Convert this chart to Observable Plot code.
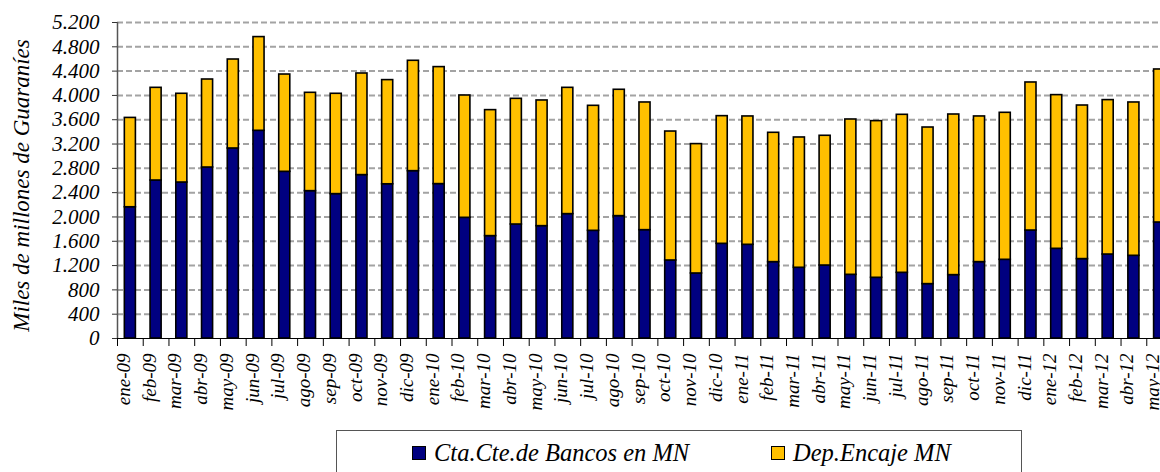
<!DOCTYPE html>
<html>
<head>
<meta charset="utf-8">
<script src="https://cdn.jsdelivr.net/npm/d3@7"></script>
<script src="https://cdn.jsdelivr.net/npm/@observablehq/plot@0.6"></script>
<style>
  html, body { margin: 0; padding: 0; background: #fff; overflow: hidden; width: 1160px; height: 472px; }
  #wrap { position: relative; width: 1160px; height: 472px; overflow: hidden; }
  #chart { position: absolute; left: 0; top: 0; width: 1172px; }
  #chart svg { max-width: none !important; }
  #legend {
    position: absolute; left: 336px; top: 430px; width: 686px; height: 60px;
    border: 1.5px solid #555; box-sizing: border-box;
    font-family: "Liberation Serif", "Times New Roman", "DejaVu Serif", serif; font-style: italic; font-size: 24.5px; color: #000;
  }
  .item { position: absolute; top: 8px; display: flex; align-items: center; white-space: nowrap; }
  .sw { width: 12px; height: 12px; border: 1.5px solid #000; margin-right: 8px; }
  #chart svg, #chart svg text { font-family: "Liberation Serif", "Times New Roman", "DejaVu Serif", serif !important; font-style: italic; }
</style>
</head>
<body>
<div id="wrap">
  <div id="chart"></div>
  <div id="legend">
    <div class="item" style="left:75px"><span class="sw" style="background:#000080"></span>Cta.Cte.de Bancos en MN</div>
    <div class="item" style="left:434px"><span class="sw" style="background:#FFC000"></span>Dep.Encaje MN</div>
  </div>
</div>
<script>
const months = ["ene-09","feb-09","mar-09","abr-09","may-09","jun-09","jul-09","ago-09","sep-09","oct-09","nov-09","dic-09",
  "ene-10","feb-10","mar-10","abr-10","may-10","jun-10","jul-10","ago-10","sep-10","oct-10","nov-10","dic-10",
  "ene-11","feb-11","mar-11","abr-11","may-11","jun-11","jul-11","ago-11","sep-11","oct-11","nov-11","dic-11",
  "ene-12","feb-12","mar-12","abr-12","may-12"];
const ctaCte = [2160,2600,2567,2814,3127,3418,2743,2425,2376,2689,2538,2754,
  2541,1986,1685,1876,1849,2047,1772,2014,1783,1284,1070,1558,
  1542,1257,1164,1201,1048,999,1081,895,1043,1257,1295,1777,
  1476,1307,1382,1361,1909];
const depEncaje = [1470,1525,1460,1448,1464,1542,1601,1618,1651,1672,1714,1816,
  1925,2013,2073,2068,2068,2078,2057,2079,2101,2122,2129,2101,
  2112,2128,2144,2135,2556,2578,2600,2577,2643,2397,2419,2436,
  2529,2527,2541,2523,2518];
const seriesNames = ["Cta.Cte.de Bancos en MN", "Dep.Encaje MN"];
const seriesColors = ["#000080", "#FFC000"];
const yTicks = d3.range(0, 5201, 400);
const yTitle = "Miles de millones de Guaraníes";

const data = [];
months.forEach((m, i) => {
  data.push({month: m, series: seriesNames[0], value: ctaCte[i]});
  data.push({month: m, series: seriesNames[1], value: depEncaje[i]});
});

const fmt = d => d3.format(",")(d).replace(/,/g, ".");
const marginLeft = 117, width = 1172, marginRight = 0;
const step = (width - marginLeft - marginRight) / months.length;

const chart = Plot.plot({
  width, height: 425,
  marginLeft, marginRight, marginTop: 22, marginBottom: 87,
  style: {fontFamily: "'Liberation Serif', 'Times New Roman', 'DejaVu Serif', serif", fontStyle: "italic", color: "#000", background: "#fff"},
  x: {domain: months, paddingInner: 0.57, paddingOuter: 0.285, round: false, axis: null},
  y: {domain: [0, 5200], axis: null},
  color: {domain: seriesNames, range: seriesColors},
  marks: [
    Plot.ruleY(yTicks.filter(d => d > 0), {stroke: "#a3a3a3", strokeWidth: 2, strokeDasharray: "6,3"}),
    Plot.barY(data, {x: "month", y: "value", fill: "series", stroke: "#000", strokeWidth: 1.6}),
    Plot.ruleY([0], {stroke: "#000", strokeWidth: 1.2}),
    Plot.ruleX([months[0]], {dx: -step / 2, y1: 0, y2: 5200, stroke: "#555", strokeWidth: 1.5}),
    Plot.ruleX(months, {x: d => d, dx: -step / 2, y1: 0, y2: 0, insetTop: 0, insetBottom: -8, stroke: "#000", strokeWidth: 1}),
    Plot.axisY({ticks: yTicks, tickFormat: fmt, tickSize: 5, tickPadding: 13, fontSize: 21, label: null, stroke: "#333"}),
    Plot.axisX({tickSize: 0, tickPadding: 15, tickRotate: -90, fontSize: 19, label: null, dx: -6.5}),
    Plot.text([yTitle], {frameAnchor: "left", textAnchor: "middle", rotate: -90, dx: -96, dy: 5, fontSize: 23})
  ]
});
document.getElementById("chart").append(chart);
</script>
</body>
</html>
